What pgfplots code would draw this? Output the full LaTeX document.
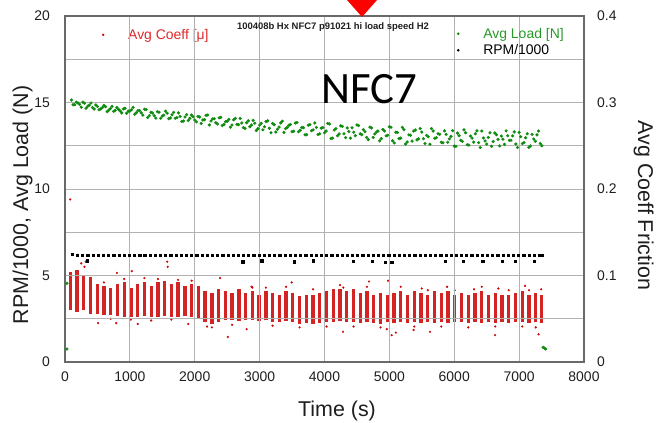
\documentclass[border=0pt]{standalone}
\usepackage{fontspec}
\setmainfont{Liberation Sans}
\newfontfamily\calfont{Carlito}
\usepackage{pgfplots}
\usepackage{pgfplotstable}
\pgfplotsset{compat=1.18}
\definecolor{gridc}{RGB}{178,178,178}
\definecolor{framec}{RGB}{105,105,105}
\definecolor{redd}{RGB}{205,5,5}
\definecolor{greend}{RGB}{15,140,15}
\definecolor{legred}{RGB}{222,40,40}
\definecolor{leggreen}{RGB}{40,150,40}
\definecolor{txt}{RGB}{30,30,30}

% Avg Load [N]
\pgfplotstableread{
t y
30 4.55
30 0.75
100 15.14
150 14.87
200 14.97
250 14.73
300 14.96
350 14.78
400 14.97
450 14.62
500 14.77
550 14.63
600 14.83
650 14.47
700 14.65
750 14.49
800 14.71
850 14.51
900 14.63
950 14.38
1000 14.50
1050 14.72
1100 14.41
1150 14.53
1200 14.27
1250 14.59
1300 14.24
1350 14.39
1400 14.10
1450 14.44
1500 14.22
1550 14.50
1600 14.06
1650 14.29
1700 14.09
1750 14.40
1800 13.90
1850 14.16
1900 13.96
1950 14.27
2000 13.99
2050 14.20
2100 13.79
2150 14.01
2200 14.28
2250 13.93
2300 14.06
2350 13.76
2400 14.14
2450 13.73
2500 13.92
2550 13.57
2600 14.00
2650 13.74
2700 14.08
2750 13.55
2800 13.83
2850 13.60
2900 13.97
2950 13.38
3000 13.69
3050 13.42
3100 13.90
3150 13.51
3200 13.79
3250 13.29
3300 13.58
3350 13.92
3400 13.49
3450 13.68
3500 13.31
3550 13.81
3600 13.31
3650 13.56
3700 13.13
3750 13.69
3800 13.37
3850 13.82
3900 13.15
3950 13.52
4000 13.25
4050 13.79
4100 12.92
4150 13.41
4200 13.08
4250 13.65
4300 13.19
4350 13.53
4400 12.94
4450 13.28
4500 13.70
4550 13.19
4600 13.43
4650 12.98
4700 13.58
4750 12.98
4800 13.29
4850 12.78
4900 13.44
4950 13.07
5000 13.60
5050 12.79
5100 13.28
5150 12.92
5200 13.56
5250 12.60
5300 13.13
5350 12.77
5400 13.41
5450 12.90
5500 13.29
5550 12.63
5600 13.02
5650 13.49
5700 12.93
5750 13.19
5800 12.70
5850 13.36
5900 12.70
5950 13.04
6000 12.48
6050 13.23
6100 12.82
6150 13.42
6200 12.56
6250 13.06
6300 12.71
6350 13.36
6400 12.40
6450 12.95
6500 12.60
6550 13.25
6600 12.74
6650 13.14
6700 12.49
6750 12.88
6800 13.36
6850 12.81
6900 13.07
6950 12.60
7000 13.27
7050 12.62
7100 12.96
7150 12.41
7200 13.16
7250 12.76
7300 13.35
7350 12.50
7370 0.85
7390 0.80
7410 0.75
125 14.87
175 15.02
225 14.89
275 15.02
325 14.67
375 14.85
425 14.71
475 14.86
525 14.58
575 14.70
625 14.76
675 14.56
725 14.78
775 14.55
825 14.60
875 14.40
925 14.66
975 14.50
1025 14.58
1075 14.32
1125 14.54
1175 14.40
1225 14.61
1275 14.13
1325 14.43
1375 14.24
1425 14.47
1475 14.09
1525 14.27
1575 14.38
1625 14.11
1675 14.43
1725 14.12
1775 14.20
1825 13.93
1875 14.30
1925 14.09
1975 14.17
2025 13.88
2075 14.16
2125 13.99
2175 14.26
2225 13.70
2275 14.05
2325 13.83
2375 14.11
2425 13.67
2475 13.89
2525 14.02
2575 13.70
2625 14.08
2675 13.72
2725 13.82
2775 13.50
2825 13.94
2875 13.70
2925 13.80
2975 13.49
3025 13.80
3075 13.60
3125 13.94
3175 13.25
3225 13.71
3275 13.45
3325 13.82
3375 13.27
3425 13.56
3475 13.73
3525 13.34
3575 13.84
3625 13.40
3675 13.54
3725 13.14
3775 13.72
3825 13.42
3875 13.56
3925 13.19
3975 13.55
4025 13.35
4075 13.76
4125 12.94
4175 13.49
4225 13.18
4275 13.62
4325 12.97
4375 13.32
4425 13.54
4475 13.08
4525 13.67
4575 13.14
4625 13.31
4675 12.85
4725 13.53
4775 13.18
4825 13.35
4875 12.91
4925 13.35
4975 13.11
5025 13.57
5075 12.66
5125 13.27
5175 12.94
5225 13.43
5275 12.72
5325 13.11
5375 13.35
5425 12.84
5475 13.49
5525 12.91
5575 13.10
5625 12.59
5675 13.35
5725 12.97
5775 13.16
5825 12.67
5875 13.16
5925 12.90
5975 13.37
6025 12.46
6075 13.08
6125 12.75
6175 13.25
6225 12.54
6275 12.94
6325 13.19
6375 12.68
6425 13.35
6475 12.78
6525 12.98
6575 12.47
6625 13.24
6675 12.87
6725 13.06
6775 12.58
6825 13.08
6875 12.82
6925 13.30
6975 12.40
7025 13.02
7075 12.69
7125 13.19
7175 12.49
7225 12.89
7275 13.13
7325 12.63
}\loadtab

% RPM/1000
\pgfplotstableread{
t y
110 6.22
190 6.17
270 6.18
341 5.85
350 6.17
430 6.18
510 6.18
590 6.17
670 6.18
750 6.18
830 6.18
910 6.17
990 6.18
1070 6.18
1150 6.18
1230 6.17
1310 6.18
1390 6.18
1470 6.18
1550 6.18
1630 6.17
1710 6.18
1790 6.18
1870 6.18
1950 6.17
2030 6.18
2110 6.18
2190 6.18
2270 6.17
2350 6.18
2430 6.18
2510 6.18
2590 6.17
2670 6.18
2739 5.80
2750 6.18
2830 6.18
2910 6.17
2990 6.18
3031 5.85
3070 6.18
3150 6.18
3230 6.17
3310 6.18
3390 6.18
3470 6.18
3535 5.80
3550 6.17
3630 6.18
3710 6.18
3790 6.18
3828 5.85
3870 6.17
3950 6.18
4030 6.18
4110 6.18
4190 6.17
4270 6.18
4350 6.18
4430 6.18
4444 5.82
4510 6.17
4590 6.18
4670 6.18
4737 5.82
4750 6.18
4830 6.17
4910 6.18
4932 5.78
4990 6.18
5035 5.75
5070 6.18
5150 6.17
5230 6.18
5310 6.18
5390 6.18
5470 6.17
5550 6.18
5630 6.18
5710 6.18
5790 6.17
5857 5.82
5870 6.18
5950 6.18
6030 6.18
6110 6.17
6140 5.82
6190 6.18
6270 6.18
6350 6.18
6430 6.17
6438 5.82
6510 6.18
6590 6.18
6670 6.18
6741 5.82
6750 6.17
6830 6.18
6910 6.18
6936 5.82
6990 6.18
7070 6.17
7150 6.18
7229 5.82
7230 6.18
7310 6.18
7350 6.17
}\rpmtab

% Avg Coeff: stripe extents (t, low, high)
\pgfplotstableread{
t lo hi
80 0.060 0.104
184 0.058 0.106
288 0.060 0.100
392 0.056 0.098
496 0.056 0.090
600 0.054 0.088
704 0.054 0.086
808 0.053 0.090
912 0.052 0.092
1016 0.052 0.086
1120 0.052 0.090
1224 0.053 0.092
1328 0.052 0.088
1432 0.052 0.092
1536 0.053 0.094
1640 0.052 0.090
1744 0.052 0.092
1848 0.053 0.088
1952 0.052 0.090
2056 0.050 0.088
2160 0.046 0.082
2264 0.044 0.080
2368 0.046 0.084
2472 0.048 0.082
2576 0.048 0.080
2680 0.047 0.084
2784 0.048 0.080
2888 0.048 0.082
2992 0.047 0.078
3096 0.048 0.082
3200 0.046 0.080
3304 0.046 0.078
3408 0.047 0.082
3512 0.046 0.080
3616 0.044 0.076
3720 0.045 0.078
3824 0.044 0.078
3928 0.045 0.080
4032 0.046 0.082
4136 0.046 0.084
4240 0.047 0.084
4344 0.046 0.082
4448 0.046 0.084
4552 0.045 0.080
4656 0.046 0.082
4760 0.045 0.078
4864 0.044 0.080
4968 0.046 0.078
5072 0.045 0.080
5176 0.046 0.082
5280 0.045 0.078
5384 0.046 0.082
5488 0.045 0.080
5592 0.046 0.078
5696 0.045 0.082
5800 0.046 0.080
5904 0.045 0.082
6008 0.046 0.078
6112 0.046 0.080
6216 0.045 0.078
6320 0.046 0.080
6424 0.045 0.082
6528 0.046 0.078
6632 0.045 0.080
6736 0.046 0.078
6840 0.045 0.078
6944 0.046 0.080
7048 0.046 0.082
7152 0.045 0.078
7256 0.046 0.080
7340 0.045 0.078
}\stripetab

% Avg Coeff: scattered points
\pgfplotstableread{
t y
80 0.188
110 0.124
200 0.124
250 0.114
300 0.110
320 0.116
510 0.045
790 0.045
800 0.103
1030 0.105
1120 0.044
1575 0.116
1583 0.110
1900 0.044
2190 0.041
2390 0.097
2510 0.029
2800 0.038
2877 0.087
3494 0.092
4285 0.035
4290 0.086
4686 0.093
4960 0.038
4980 0.094
5035 0.031
5100 0.034
5373 0.037
5498 0.085
5626 0.035
5890 0.087
6305 0.084
6630 0.031
6680 0.085
7090 0.088
7300 0.032
600 0.092
912 0.096
1224 0.097
1432 0.096
1744 0.095
1952 0.094
704 0.050
1016 0.049
1328 0.048
1640 0.049
2264 0.040
2576 0.043
2888 0.086
3096 0.086
3200 0.042
3408 0.087
3616 0.040
3824 0.084
4032 0.041
4240 0.089
4448 0.041
4656 0.087
4864 0.040
5176 0.087
5384 0.041
5592 0.083
5800 0.041
6008 0.083
6216 0.040
6424 0.087
6632 0.041
6840 0.083
7048 0.041
7152 0.083
7256 0.040
7340 0.084
}\coefftab

\begin{document}
\begin{tikzpicture}[x=1bp,y=1bp]
\useasboundingbox (0,0) rectangle (662,422);
\pgfplotsset{
  common/.style={
    at={(65bp,60bp)}, anchor=south west, scale only axis,
    width=519bp, height=346bp,
    xmin=0, xmax=8000,
    major tick length=0pt, minor tick length=0pt,
    tick label style={font=\fontsize{14}{16}\selectfont, text=txt},
    /pgf/number format/assume math mode=true,
    /pgf/number format/1000 sep={},
    legend cell align=left,
  }
}
% right axis: Avg Coeff
\begin{axis}[common,
  ymin=0, ymax=0.4,
  ytick={0,0.1,0.2,0.3,0.4},
  yticklabels={0,0.1,0.2,0.3,0.4},
  axis x line=none, axis y line*=right,
  axis line style={draw=framec, line width=1.3bp},
  yticklabel style={inner sep=0pt, anchor=west, xshift=13bp},
  legend style={at={(0.0709,0.963)}, anchor=north west, draw=none, fill=none,
    inner sep=0pt, nodes={inner sep=0pt}, column sep=0pt,
    font=\fontsize{14}{16}\selectfont},
]
\addplot[forget plot, draw=none, mark=none,
  error bars/.cd, y dir=plus, y explicit, error mark=none,
  error bar style={line width=3.3bp, draw=redd, draw opacity=0.88}]
  table[x=t, y=lo, y error expr=\thisrow{hi}-\thisrow{lo}] {\stripetab};
\addplot[only marks, mark=*, mark size=0.9bp, color=redd,
  legend image code/.code={\path[draw=none,fill=none] (0,0) -- (25bp,0); \fill[redd] (0,0) circle (1bp);}]
  table[x=t, y=y] {\coefftab};
\addlegendentry{\textcolor{legred}{Avg Coeff [μ]}}
\end{axis}
% left axis: load and rpm
\begin{axis}[common,
  ymin=0, ymax=20,
  xtick={0,1000,...,8000}, ytick={0,5,10,15,20},
  minor ytick={2.5,7.5,12.5,17.5},
  xtick pos=bottom, ytick pos=left,
  grid=both, major grid style={draw=gridc, line width=0.9bp},
  minor grid style={draw=gridc, line width=0.9bp},
  axis line style={draw=framec, line width=1.3bp},
  xticklabel style={inner sep=0pt, anchor=north, yshift=-10bp},
  yticklabel style={inner sep=0pt, anchor=east, xshift=-15bp},
  legend style={at={(0.755,0.966)}, anchor=north west, draw=none, fill=none,
    inner sep=0pt, nodes={inner sep=0pt}, column sep=0pt, row sep=4.9bp,
    font=\fontsize{14}{16}\selectfont},
]
\addplot[only marks, mark=*, mark size=1.4bp, color=greend,
  legend image code/.code={\path[draw=none,fill=none] (0,0) -- (25bp,0); \fill[greend] (0,0) circle (1.1bp);}]
  table[x=t, y=y] {\loadtab};
\addlegendentry{\textcolor{leggreen}{Avg Load [N]}}
\addplot[only marks, mark=square*, mark size=1.1bp, color=black,
  legend image code/.code={\path[draw=none,fill=none] (0,0) -- (25bp,0); \fill[black] (0,0) circle (1.1bp);}]
  table[x=t, y=y] {\rpmtab};
\addlegendentry{RPM/1000}
\end{axis}
% labels and annotations
\node[anchor=base, font=\fontsize{21.5}{24}\selectfont, text=txt] at (337,5.5) {Time (s)};
\node[anchor=base, rotate=90, font=\fontsize{21.5}{24}\selectfont, text=txt] at (28,217) {RPM/1000, Avg Load (N)};
\node[anchor=base, rotate=-90, font=\fontsize{21.5}{24}\selectfont, text=txt] at (638,216.5) {Avg Coeff Friction};
\node[anchor=center, font=\bfseries\fontsize{9.5}{11}\selectfont, text=txt] at (333,395) {100408b Hx NFC7 p91021 hi load speed H2};
\node[anchor=base, font=\calfont\fontsize{45}{50}\selectfont, text=black] at (369.5,319) {NFC7};
\fill[red] (347,422) -- (377,422) -- (362,405) -- cycle;
\end{tikzpicture}
\end{document}
